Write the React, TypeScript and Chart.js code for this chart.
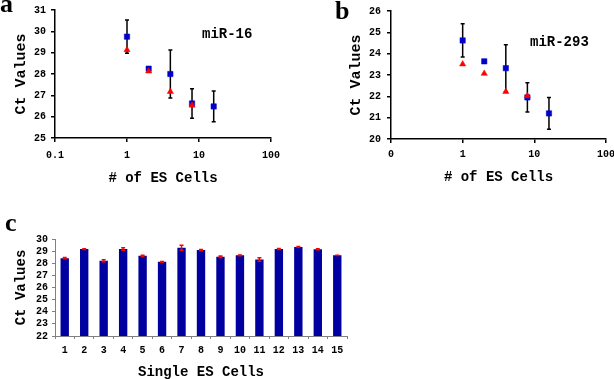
import React, { useEffect, useRef } from 'react';
import { Chart, registerables } from 'chart.js';

Chart.register(...registerables);

// ---- Data ----
const cellCounts = [1, 2, 4, 8, 16];
const redCellCounts = [1, 2, 4, 8];

const mir16Squares = [29.75, 28.25, 28.0, 26.62, 26.48];
const mir16SquareErr = [0.78, 0, 1.12, 0.69, 0.72];
const mir16Triangles = [29.13, 28.13, 27.17, 26.53];

const mir293Squares = [24.62, 23.64, 23.32, 21.95, 21.2];
const mir293SquareErr = [0.78, 0, 1.1, 0.69, 0.74];
const mir293Triangles = [23.51, 23.07, 22.22, 22.02];

const logTickValues = [0.1, 1, 10, 100];
const logTickLabelsA = ['0.1', '1', '10', '100'];
const logTickLabelsB = ['0', '1', '10', '100'];

const singleCells = ['1', '2', '3', '4', '5', '6', '7', '8', '9', '10', '11', '12', '13', '14', '15'];
const singleCellCt = [28.42, 29.17, 28.2, 29.17, 28.61, 28.12, 29.28, 29.09, 28.53, 28.65, 28.31, 29.17, 29.35, 29.16, 28.65];
const singleCellErr = [0.05, 0.03, 0.08, 0.1, 0.06, 0.03, 0.2, 0.05, 0.06, 0.04, 0.15, 0.04, 0.04, 0.04, 0.02];

const MONO = '"Liberation Mono", "Courier New", monospace';
const SERIF = '"Liberation Serif", "Times New Roman", serif';

// ---- Error bar plugin ----
function drawErrors(chart: any, phase: string) {
  const ctx = chart.ctx;
  const ys = chart.scales.y;
  chart.data.datasets.forEach((ds: any, di: number) => {
    if (!ds.errors || ds.errorPhase !== phase) return;
    const meta = chart.getDatasetMeta(di);
    meta.data.forEach((el: any, i: number) => {
      const e = ds.errors[i];
      if (!e) return;
      const raw = ds.data[i];
      const v = typeof raw === 'number' ? raw : raw.y;
      const x = el.x;
      const yTop = ys.getPixelForValue(v + e);
      const yBot = ys.getPixelForValue(v - e);
      const cap = ds.errorCap;
      ctx.save();
      ctx.strokeStyle = ds.errorColor;
      ctx.lineWidth = ds.errorWidth;
      ctx.beginPath();
      ctx.moveTo(x, yTop);
      ctx.lineTo(x, yBot);
      ctx.moveTo(x - cap, yTop);
      ctx.lineTo(x + cap, yTop);
      ctx.moveTo(x - cap, yBot);
      ctx.lineTo(x + cap, yBot);
      ctx.stroke();
      ctx.restore();
    });
  });
}

const errorBarPlugin = {
  id: 'errorBars',
  beforeDatasetsDraw(chart: any) {
    drawErrors(chart, 'before');
  },
  afterDatasetsDraw(chart: any) {
    drawErrors(chart, 'after');
  },
};

function tickFont(size = 10) {
  return { family: MONO, size, weight: 'bold' as const, lineHeight: 1 };
}

function scatterConfig(opts: {
  squares: number[];
  squareErr: number[];
  triangles: number[];
  labels: string[];
  yMin: number;
  yMax: number;
  padTop: number;
  padRight: number;
  yWidth: number;
  xHeight: number;
  yTitlePad: number;
  xTitlePad: number;
  yTickPad: number;
  xTickPad: number;
}) {
  return {
    type: 'scatter' as const,
    data: {
      datasets: [
        {
          label: 'triangles',
          data: redCellCounts.map((x, i) => ({ x, y: opts.triangles[i] })),
          pointStyle: 'triangle',
          pointRadius: 3.6,
          backgroundColor: '#FF0000',
          borderColor: '#FF0000',
          borderWidth: 0.5,
          order: 0,
        },
        {
          label: 'squares',
          data: cellCounts.map((x, i) => ({ x, y: opts.squares[i] })),
          pointStyle: 'rect',
          pointRadius: 3.8,
          backgroundColor: '#0000CC',
          borderColor: '#0000CC',
          borderWidth: 0.5,
          order: 1,
          errors: opts.squareErr,
          errorPhase: 'before',
          errorColor: '#000000',
          errorWidth: 1.5,
          errorCap: 2,
        },
      ],
    },
    options: {
      animation: false as const,
      responsive: false,
      devicePixelRatio: 1,
      layout: { padding: { top: opts.padTop, right: opts.padRight, left: 0, bottom: 0 } },
      plugins: { legend: { display: false }, tooltip: { enabled: false } },
      scales: {
        x: {
          type: 'logarithmic' as const,
          min: 0.1,
          max: 100,
          afterBuildTicks: (s: any) => {
            s.ticks = logTickValues.map((v) => ({ value: v }));
          },
          afterFit: (s: any) => {
            s.height = opts.xHeight;
            s.paddingRight = 0;
          },
          ticks: {
            callback: (_v: any, i: number) => opts.labels[i],
            font: tickFont(10),
            color: '#000',
            padding: opts.xTickPad,
            autoSkip: false,
            maxRotation: 0,
          },
          grid: { drawOnChartArea: false, drawTicks: true, tickLength: 4, color: '#000', lineWidth: 1.5 },
          border: { display: true, color: '#000', width: 1.5 },
          title: {
            display: true,
            text: '# of ES Cells',
            font: { family: MONO, size: 14, weight: 'bold' as const, lineHeight: 1 },
            color: '#000',
            padding: { top: 0, bottom: opts.xTitlePad },
          },
        },
        y: {
          min: opts.yMin,
          max: opts.yMax,
          afterFit: (s: any) => {
            s.width = opts.yWidth;
          },
          ticks: {
            stepSize: 1,
            autoSkip: false,
            font: tickFont(10),
            color: '#000',
            padding: opts.yTickPad,
          },
          grid: { drawOnChartArea: false, drawTicks: true, tickLength: 4, color: '#000', lineWidth: 1.5 },
          border: { display: true, color: '#000', width: 1.5 },
          title: {
            display: true,
            text: 'Ct Values',
            font: { family: MONO, size: 15, weight: 'bold' as const, lineHeight: 1 },
            color: '#000',
            padding: { top: opts.yTitlePad, bottom: 0 },
          },
        },
      },
    },
    plugins: [errorBarPlugin],
  };
}

function barConfig() {
  return {
    type: 'bar' as const,
    data: {
      labels: singleCells,
      datasets: [
        {
          label: 'Ct',
          data: singleCellCt,
          backgroundColor: '#0000A0',
          borderWidth: 0,
          barPercentage: 0.43,
          categoryPercentage: 1,
          errors: singleCellErr,
          errorPhase: 'after',
          errorColor: '#FF0000',
          errorWidth: 1.5,
          errorCap: 2,
        },
      ],
    },
    options: {
      animation: false as const,
      responsive: false,
      devicePixelRatio: 1,
      layout: { padding: { top: 39, right: 13, left: 0, bottom: 0 } },
      plugins: { legend: { display: false }, tooltip: { enabled: false } },
      scales: {
        x: {
          afterFit: (s: any) => {
            s.height = 43;
          },
          ticks: { font: tickFont(10), color: '#000', padding: 6.5, autoSkip: false, maxRotation: 0 },
          grid: { drawOnChartArea: false, drawTicks: true, tickLength: 3, color: '#808080', lineWidth: 1, offset: true },
          border: { display: true, color: '#808080', width: 1 },
          title: {
            display: true,
            text: 'Single ES Cells',
            font: { family: MONO, size: 14, weight: 'bold' as const, lineHeight: 1 },
            color: '#000',
            padding: { top: 0, bottom: 0 },
          },
        },
        y: {
          min: 22,
          max: 30,
          afterFit: (s: any) => {
            s.width = 55;
          },
          ticks: { stepSize: 1, autoSkip: false, font: tickFont(10), color: '#000', padding: 4 },
          grid: { drawOnChartArea: false, drawTicks: true, tickLength: 3, color: '#808080', lineWidth: 1 },
          border: { display: true, color: '#808080', width: 1 },
          title: {
            display: true,
            text: 'Ct Values',
            font: { family: MONO, size: 14, weight: 'bold' as const, lineHeight: 1 },
            color: '#000',
            padding: { top: 14.5, bottom: 0 },
          },
        },
      },
    },
    plugins: [errorBarPlugin],
  };
}

function ChartCanvas({ config, left, top, width, height }: any) {
  const ref = useRef<HTMLCanvasElement>(null);
  useEffect(() => {
    if (!ref.current) return;
    const chart = new Chart(ref.current, config() as any);
    return () => chart.destroy();
  }, []);
  return (
    <canvas
      ref={ref}
      width={width}
      height={height}
      style={{ position: 'absolute', left, top, width, height }}
    />
  );
}

const letterStyle: React.CSSProperties = {
  position: 'absolute',
  fontFamily: SERIF,
  fontWeight: 'bold',
  fontSize: 26,
  lineHeight: 1,
  color: '#000',
};

const geneStyle: React.CSSProperties = {
  position: 'absolute',
  fontFamily: MONO,
  fontWeight: 'bold',
  fontSize: 14,
  lineHeight: 1,
  color: '#000',
  whiteSpace: 'nowrap',
};

export default function App() {
  return (
    <div
      style={{
        position: 'fixed',
        left: 0,
        top: 0,
        width: 614,
        height: 379,
        background: '#fff',
        overflow: 'hidden',
      }}
    >
      <ChartCanvas
        left={0}
        top={0}
        width={300}
        height={200}
        config={() =>
          scatterConfig({
            squares: mir16Squares,
            squareErr: mir16SquareErr,
            triangles: mir16Triangles,
            labels: logTickLabelsA,
            yMin: 25,
            yMax: 31,
            padTop: 6,
            padRight: 29,
            yWidth: 55,
            xHeight: 62,
            yTitlePad: 13.5,
            xTitlePad: 15,
            yTickPad: 5,
            xTickPad: 8,
          })
        }
      />
      <ChartCanvas
        left={300}
        top={0}
        width={314}
        height={200}
        config={() =>
          scatterConfig({
            squares: mir293Squares,
            squareErr: mir293SquareErr,
            triangles: mir293Triangles,
            labels: logTickLabelsB,
            yMin: 20,
            yMax: 26,
            padTop: 5,
            padRight: 8,
            yWidth: 91,
            xHeight: 61,
            yTitlePad: 48.5,
            xTitlePad: 16,
            yTickPad: 6,
            xTickPad: 6,
          })
        }
      />
      <ChartCanvas left={0} top={200} width={360} height={179} config={barConfig} />
      <div style={{ ...letterStyle, left: 0, top: -9 }}>a</div>
      <div style={{ ...letterStyle, left: 335, top: -2 }}>b</div>
      <div style={{ ...letterStyle, left: 5, top: 210 }}>c</div>
      <div style={{ ...geneStyle, left: 202, top: 27 }}>miR-16</div>
      <div style={{ ...geneStyle, left: 530, top: 35 }}>miR-293</div>
    </div>
  );
}
